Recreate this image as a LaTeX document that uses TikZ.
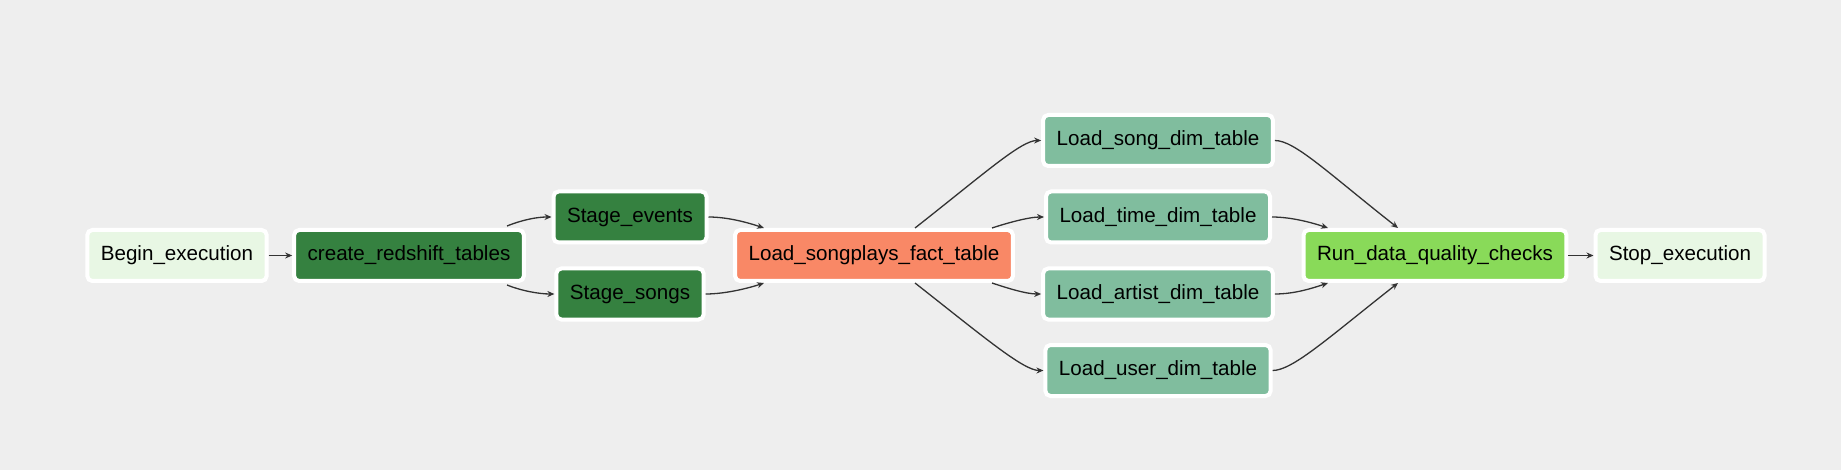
\documentclass[tikz,border=0pt]{standalone}
\usepackage{fontspec}
\setmainfont{Liberation Sans}
\usetikzlibrary{arrows.meta,positioning,calc}
\definecolor{canvas}{HTML}{EEEEEE}
\definecolor{dummy}{HTML}{E8F7E4}
\definecolor{stage}{HTML}{358140}
\definecolor{fact}{HTML}{F98866}
\definecolor{dim}{HTML}{80BD9E}
\definecolor{check}{HTML}{89DA59}
\definecolor{wire}{HTML}{333333}

\tikzset{
  task/.style={draw=white, line width=2pt, rounded corners=2.5pt, rectangle,
    inner xsep=6.75pt, minimum height=25.5pt, text=black,
    font=\fontsize{10.3}{12}\selectfont},
  flow/.style={->, draw=wire, line width=0.65pt},
}

\begin{document}
\begin{tikzpicture}[x=0.5pt, y=-0.5pt, on grid, >={Stealth[length=3.5pt,width=3pt]}]
\fill[canvas] (0,0) rectangle (1841,470);
\node[task, fill=dummy] (begin) at (177,255.5) {Begin\_execution};
\node[task, fill=stage] (create) [right=116pt of begin] {create\_redshift\_tables};
\node[task, fill=stage] (events) [above right=19.25pt and 110.5pt of create] {Stage\_events};
\node[task, fill=stage] (songs) [below right=19.25pt and 110.5pt of create] {Stage\_songs};
\node[task, fill=fact] (fact) [right=232.5pt of create] {Load\_songplays\_fact\_table};
\node[task, fill=dim] (songdim) [above right=57.5pt and 142pt of fact] {Load\_song\_dim\_table};
\node[task, fill=dim] (timedim) [above right=19.25pt and 142pt of fact] {Load\_time\_dim\_table};
\node[task, fill=dim] (artistdim) [below right=19.25pt and 142pt of fact] {Load\_artist\_dim\_table};
\node[task, fill=dim] (userdim) [below right=57.5pt and 142pt of fact] {Load\_user\_dim\_table};
\node[task, fill=check] (checks) [right=280.5pt of fact] {Run\_data\_quality\_checks};
\node[task, fill=dummy] (stop) [right=122.5pt of checks] {Stop\_execution};

\draw[flow] (begin) -- (create);
\draw[flow] ($(create.north)+(98,-2)$) .. controls +(15,-6) and +(-15,0) .. (events.west);
\draw[flow] ($(create.south)+(98,2)$) .. controls +(15,6) and +(-15,0) .. (songs.west);
\draw[flow] (events.east) .. controls +(20,0) and +(-15,-5) .. ($(fact.north)+(-110,0)$);
\draw[flow] (songs.east) .. controls +(20,0) and +(-15,5) .. ($(fact.south)+(-110,0)$);
\draw[flow] ($(fact.north)+(41,0)$) .. controls +(70,-55) and +(-20,0) .. (songdim.west);
\draw[flow] ($(fact.north)+(118,0)$) .. controls +(15,-5) and +(-15,0) .. (timedim.west);
\draw[flow] ($(fact.south)+(118,0)$) .. controls +(15,5) and +(-15,0) .. (artistdim.west);
\draw[flow] ($(fact.south)+(41,0)$) .. controls +(70,55) and +(-20,0) .. (userdim.west);
\draw[flow] (songdim.east) .. controls +(20,0) and +(-70,-55) .. ($(checks.north)+(-37,0)$);
\draw[flow] (timedim.east) .. controls +(20,0) and +(-15,-5) .. ($(checks.north)+(-107,0)$);
\draw[flow] (artistdim.east) .. controls +(20,0) and +(-15,5) .. ($(checks.south)+(-107,0)$);
\draw[flow] (userdim.east) .. controls +(20,0) and +(-70,55) .. ($(checks.south)+(-37,0)$);
\draw[flow] (checks) -- (stop);
\end{tikzpicture}
\end{document}
